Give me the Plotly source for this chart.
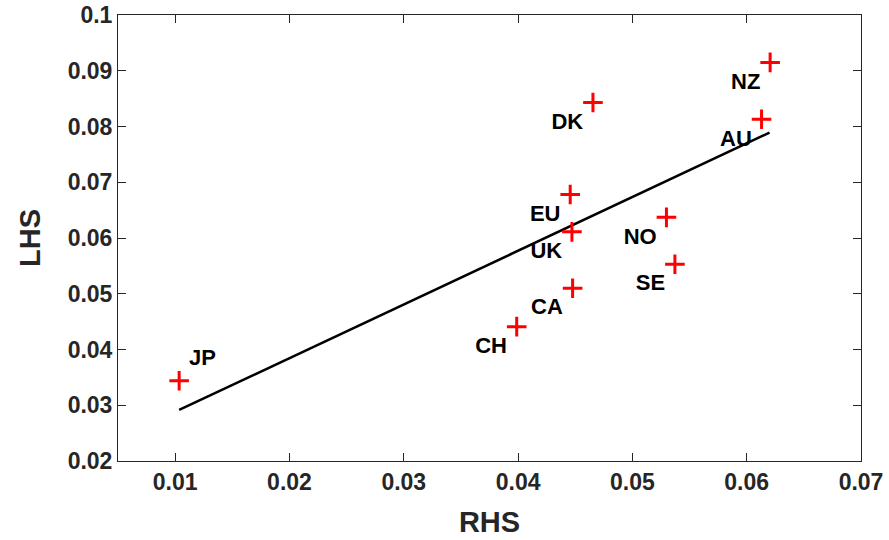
import plotly.graph_objects as go

countries = ["JP", "CH", "CA", "UK", "EU", "DK", "NO", "SE", "AU", "NZ"]
rhs = [0.01035, 0.03988, 0.04477, 0.04471, 0.04456, 0.04655, 0.05298, 0.05372, 0.0613, 0.06205]
lhs = [0.0344, 0.0441, 0.0510, 0.0611, 0.0678, 0.0843, 0.0637, 0.0553, 0.0813, 0.0915]
label_pos = ["top right"] + ["bottom left"] * 9

fit_x = [0.01035, 0.0620]
fit_y = [0.02915, 0.0789]

x_ticks = [0.01, 0.02, 0.03, 0.04, 0.05, 0.06, 0.07]
x_ticktext = ["0.01", "0.02", "0.03", "0.04", "0.05", "0.06", "0.07"]
y_ticks = [0.02, 0.03, 0.04, 0.05, 0.06, 0.07, 0.08, 0.09, 0.1]
y_ticktext = ["0.02", "0.03", "0.04", "0.05", "0.06", "0.07", "0.08", "0.09", "0.1"]

FONT = "Liberation Sans, Arial, Helvetica, sans-serif"
AX = "#262626"

fig = go.Figure()
fig.add_trace(go.Scatter(x=fit_x, y=fit_y, mode="lines",
                         line=dict(color="black", width=2.5), showlegend=False))
fig.add_trace(go.Scatter(
    x=rhs, y=lhs, mode="markers+text", text=countries, textposition=label_pos,
    textfont=dict(family=FONT, size=22, color="black", weight="bold"),
    marker=dict(symbol="cross-thin", size=14, line=dict(color="red", width=3), color="red"),
    showlegend=False))

axis_common = dict(showline=True, linecolor=AX, linewidth=1, mirror="ticks",
                   ticks="inside", ticklen=8, tickcolor=AX, tickwidth=1,
                   showgrid=False, zeroline=False, automargin=False,
                   ticklabeloverflow="allow",
                   tickfont=dict(family=FONT, size=23, color=AX, weight="bold"))

fig.update_layout(
    width=889, height=540,
    margin=dict(l=118, r=28, t=15, b=79),
    paper_bgcolor="white", plot_bgcolor="white",
    xaxis=dict(range=[0.005, 0.07], tickvals=x_ticks, ticktext=x_ticktext,
               title=dict(text="RHS", font=dict(family=FONT, size=29, color=AX, weight="bold"), standoff=18),
               **axis_common),
    yaxis=dict(range=[0.02, 0.1], tickvals=y_ticks, ticktext=y_ticktext,
               title=dict(text="LHS", font=dict(family=FONT, size=29, color=AX, weight="bold"), standoff=18),
               **axis_common),
)

fig.write_html("out.html", config={"displayModeBar": False},
               post_script="document.body.style.margin='0';")
